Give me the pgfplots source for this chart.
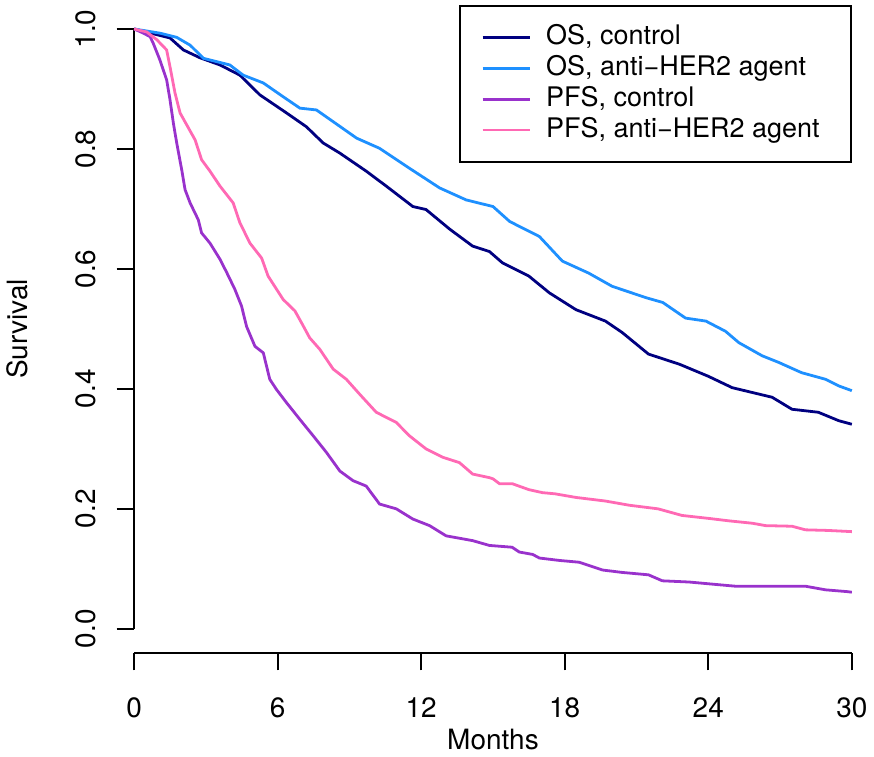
\documentclass[border=0pt]{standalone}
\usepackage{pgfplots}
\pgfplotsset{compat=1.18}
\usepackage{fontspec}
\setmainfont{TeX Gyre Heros}
\definecolor{oscontrol}{HTML}{000080}
\definecolor{osher}{HTML}{1E90FF}
\definecolor{pfscontrol}{HTML}{9932CC}
\definecolor{pfsher}{HTML}{FF69B4}

\begin{document}
\begin{tikzpicture}
\begin{axis}[
  scale only axis,
  width=359.5pt,
  height=324.5pt,
  xmin=0, xmax=30,
  ymin=-0.04, ymax=1.04,
  axis x line*=bottom,
  axis y line*=left,
  axis line style={draw=none},
  xtick={0,6,12,18,24,30},
  xticklabels={0,6,12,18,24,30},
  ytick={0,0.2,0.4,0.6,0.8,1},
  yticklabels={0.0,0.2,0.4,0.6,0.8,1.0},
  tick align=outside,
  major tick length=8.75pt,
  tick style={black, line width=0.9pt},
  ticklabel style={font=\fontsize{14}{16.8}\selectfont},
  xticklabel shift=10pt,
  yticklabel shift=7pt,
  yticklabel style={rotate=90, anchor=south},
  xlabel={Months},
  ylabel={Survival},
  every axis x label/.style={at={(rel axis cs:0.5,0)}, anchor=center, yshift=-43.5pt},
  every axis y label/.style={at={(rel axis cs:0,0.5)}, anchor=center, xshift=-58.5pt, rotate=90},
  label style={font=\fontsize{14}{16.8}\selectfont},
  every axis plot/.append style={line width=1.4pt},
  clip=false,
  legend cell align=left,
  legend style={at={(1,1)}, anchor=north east, draw=black, line width=0.9pt,
    font=\fontsize{13.5}{16}\selectfont, inner xsep=10.5pt, inner ysep=8.3pt,
    row sep=0pt,
    nodes={inner sep=1.2pt, text height=10pt, text depth=3pt}},
  legend image code/.code={\draw[#1, line width=1.4pt] (0pt,0pt) -- (24pt,0pt); \path (30pt,0pt);},
]
\draw[line width=0.9pt] (axis cs:0,-0.04) -- (axis cs:30,-0.04);
\draw[line width=0.9pt] (axis cs:0,0) -- (axis cs:0,1);

\addplot[oscontrol] coordinates {
(0,1.0) (0.5,0.995) (1.0,0.99) (1.5,0.985) (2.06,0.965) (2.75,0.952) (3.59,0.940)
(4.42,0.923) (5.26,0.890) (6.37,0.860) (7.2,0.837) (7.9,0.810) (8.6,0.793) (9.7,0.763)
(10.54,0.738) (11.65,0.704) (12.2,0.699) (13.2,0.666) (14.15,0.638) (14.85,0.629)
(15.4,0.610) (16.5,0.588) (17.36,0.560) (18.47,0.532) (19.7,0.513) (20.4,0.494)
(21.5,0.458) (22.8,0.441) (24.0,0.421) (25.0,0.402) (26.67,0.386) (27.5,0.366)
(28.6,0.361) (29.45,0.347) (30,0.341)
};
\addlegendentry{OS, control}

\addplot[osher] coordinates {
(0,1) (1.08,0.993) (1.78,0.986) (2.34,0.973) (2.9,0.951) (4.0,0.940) (4.56,0.923)
(5.4,0.910) (6.23,0.887) (6.93,0.868) (7.62,0.865) (8.3,0.846) (9.3,0.818) (10.26,0.801)
(11.5,0.768) (12.77,0.735) (13.88,0.715) (15.0,0.704) (15.7,0.679) (16.94,0.654)
(17.9,0.613) (19.0,0.593) (19.98,0.571) (21.4,0.552) (22.1,0.544) (23.05,0.518)
(23.9,0.513) (24.72,0.496) (25.28,0.477) (26.26,0.455) (26.95,0.444) (27.9,0.427)
(28.9,0.416) (29.45,0.405) (30,0.397)
};
\addlegendentry{OS, anti−HER2 agent\hspace*{4pt}}

\addplot[pfscontrol] coordinates {
(0,1) (0.39,0.993) (0.67,0.987) (0.8,0.976) (1.08,0.948) (1.36,0.915) (1.5,0.882)
(1.64,0.843) (1.78,0.810) (1.99,0.765) (2.13,0.732) (2.34,0.710) (2.68,0.682)
(2.82,0.660) (3.17,0.643) (3.59,0.616) (3.87,0.594) (4.21,0.566) (4.49,0.538)
(4.7,0.504) (5.05,0.471) (5.4,0.460) (5.67,0.416) (5.95,0.399) (6.37,0.377)
(6.93,0.349) (7.48,0.322) (8.04,0.294) (8.6,0.263) (9.15,0.247) (9.7,0.238)
(10.26,0.208) (10.96,0.200) (11.65,0.183) (12.35,0.172) (13.04,0.155) (14.15,0.147)
(14.85,0.139) (15.8,0.136) (16.1,0.128) (16.66,0.124) (16.94,0.118) (17.77,0.114)
(18.6,0.111) (19.58,0.098) (20.4,0.094) (21.5,0.090) (22.08,0.080) (23.2,0.078)
(24.58,0.073) (25.14,0.071) (28.06,0.071) (28.9,0.065) (29.8,0.062) (30,0.061)
};
\addlegendentry{PFS, control}

\addplot[pfsher] coordinates {
(0,1) (0.53,0.995) (0.95,0.982) (1.36,0.965) (1.5,0.937) (1.71,0.893) (1.92,0.860)
(2.2,0.840) (2.55,0.815) (2.82,0.782) (3.17,0.763) (3.59,0.738) (4.14,0.710)
(4.42,0.677) (4.84,0.643) (5.33,0.618) (5.6,0.588) (6.23,0.549) (6.72,0.530)
(7.0,0.510) (7.34,0.485) (7.76,0.466) (8.32,0.433) (8.87,0.416) (9.43,0.391)
(10.12,0.361) (10.96,0.344) (11.5,0.322) (12.2,0.300) (12.9,0.286) (13.6,0.277)
(14.15,0.258) (14.85,0.252) (15.0,0.250) (15.27,0.242) (15.8,0.242) (16.5,0.232)
(17.07,0.227) (17.6,0.225) (18.47,0.219) (19.7,0.213) (20.7,0.206) (21.9,0.200)
(22.9,0.189) (24.03,0.184) (24.86,0.180) (25.84,0.176) (26.4,0.172) (27.5,0.171)
(28.06,0.165) (29.0,0.164) (30,0.162)
};
\addlegendentry{PFS, anti−HER2 agent\hspace*{4pt}}
\end{axis}
\path ([xshift=-67pt,yshift=-52pt]current axis.south west) rectangle ([xshift=10.5pt,yshift=2.5pt]current axis.north east);
\end{tikzpicture}
\end{document}
